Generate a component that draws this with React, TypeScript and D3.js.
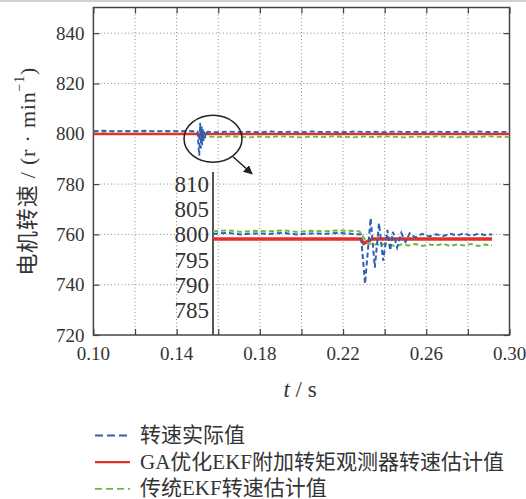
import React, { useEffect, useRef } from "react";
import * as d3 from "d3";

// x axis ticks (s) and y axis ticks (r/min)
const xTicks = [0.1, 0.12, 0.14, 0.16, 0.18, 0.2, 0.22, 0.24, 0.26, 0.28, 0.3];
const xLabelTicks = [0.1, 0.14, 0.18, 0.22, 0.26, 0.3];
const yTicks = [720, 740, 760, 780, 800, 820, 840];
const insetTicks = [785, 790, 795, 800, 805, 810];

const legendNames = ["转速实际值", "GA优化EKF附加转矩观测器转速估计值", "传统EKF转速估计值"];

// main plot series: [t, speed]
const blueMain: [number, number][] = [
  [0.1, 801.0], [0.105, 801.2], [0.11, 800.9], [0.115, 801.1], [0.12, 801.0], [0.125, 801.2],
  [0.13, 800.9], [0.135, 801.1], [0.14, 801.0], [0.145, 801.2], [0.15, 800.8], [0.1505, 795.0],
  [0.1509, 791.3], [0.1513, 804.4], [0.1517, 794.2], [0.152, 803.0], [0.1523, 795.5], [0.1526, 801.8],
  [0.1529, 797.0], [0.1532, 801.0], [0.1536, 798.3], [0.154, 800.9], [0.1545, 800.5], [0.155, 800.8],
  [0.16, 800.6], [0.165, 800.9], [0.17, 800.7], [0.175, 800.8], [0.18, 800.6], [0.185, 800.9],
  [0.19, 800.7], [0.195, 800.8], [0.2, 800.6], [0.205, 800.9], [0.21, 800.7], [0.215, 800.8],
  [0.22, 800.6], [0.225, 800.9], [0.23, 800.7], [0.235, 800.8], [0.24, 800.6], [0.245, 800.9],
  [0.25, 800.7], [0.255, 800.8], [0.26, 800.6], [0.265, 800.9], [0.27, 800.7], [0.275, 800.8],
  [0.28, 800.6], [0.285, 800.9], [0.29, 800.7], [0.295, 800.8], [0.3, 800.7],
];
const redMain: [number, number][] = [
  [0.1, 799.9], [0.1505, 799.9], [0.1508, 799.0], [0.1512, 799.5], [0.1516, 799.9], [0.3, 799.9],
];
const greenMain: [number, number][] = [
  [0.1, 801.0], [0.105, 800.8], [0.11, 801.1], [0.115, 800.9], [0.12, 801.0], [0.125, 800.8],
  [0.13, 801.1], [0.135, 800.9], [0.14, 801.0], [0.145, 800.8], [0.15, 801.0], [0.1507, 799.6],
  [0.1512, 798.6], [0.155, 798.9], [0.16, 798.7], [0.165, 799.0], [0.17, 798.8], [0.175, 798.6],
  [0.18, 798.9], [0.185, 798.7], [0.19, 799.0], [0.195, 798.8], [0.2, 798.6], [0.205, 798.9],
  [0.21, 798.7], [0.215, 799.0], [0.22, 798.8], [0.225, 798.6], [0.23, 798.9], [0.235, 798.7],
  [0.24, 799.0], [0.245, 798.8], [0.25, 798.6], [0.255, 798.9], [0.26, 798.7], [0.265, 799.0],
  [0.27, 798.8], [0.275, 798.6], [0.28, 798.9], [0.285, 798.7], [0.29, 799.0], [0.295, 798.8],
  [0.3, 798.7],
];

// inset (zoomed) series: [t, speed]
const blueInset: [number, number][] = [
  [0.14, 800.1], [0.141, 800.3], [0.142, 800.0], [0.143, 800.2], [0.144, 800.1], [0.145, 800.3],
  [0.146, 800.0], [0.147, 800.2], [0.148, 800.1], [0.149, 800.3], [0.15, 800.1], [0.1506, 800.0],
  [0.1509, 790.2], [0.1513, 803.2], [0.1516, 793.4], [0.1519, 802.2], [0.1522, 794.8], [0.1525, 800.9],
  [0.1527, 796.8], [0.1529, 800.5], [0.1532, 797.4], [0.1535, 800.3], [0.1538, 798.5], [0.1541, 800.2],
  [0.1545, 799.4], [0.155, 800.1], [0.1555, 799.6], [0.156, 800.0], [0.1565, 799.7], [0.157, 800.1],
  [0.1575, 799.8], [0.158, 800.2], [0.1585, 799.7], [0.159, 800.1], [0.1595, 799.9], [0.16, 800.0],
];
const redInset: [number, number][] = [
  [0.14, 799.1], [0.1506, 799.1], [0.1508, 798.2], [0.1511, 798.6], [0.1514, 799.1], [0.16, 799.1],
];
const greenInset: [number, number][] = [
  [0.14, 800.6], [0.141, 800.8], [0.142, 800.5], [0.143, 800.7], [0.144, 800.6], [0.145, 800.8],
  [0.146, 800.5], [0.147, 800.7], [0.148, 800.6], [0.149, 800.8], [0.1505, 800.6], [0.1508, 799.4],
  [0.1511, 798.2], [0.152, 797.9], [0.1525, 798.2], [0.153, 797.7], [0.1535, 798.0], [0.154, 797.8],
  [0.1545, 798.1], [0.155, 797.7], [0.1555, 798.0], [0.156, 797.8], [0.1565, 798.1], [0.157, 797.7],
  [0.1575, 798.0], [0.158, 797.8], [0.1585, 798.1], [0.159, 797.7], [0.1595, 798.0], [0.16, 797.8],
];

const BLUE = "#2f5fb3";
const RED = "#e5302a";
const GREEN = "#66bb44";
const FONT = "'Liberation Serif', 'Noto Sans CJK SC', serif";

export default function App() {
  const ref = useRef<SVGSVGElement>(null);

  useEffect(() => {
    const svg = d3.select(ref.current);
    svg.selectAll("*").remove();

    const left = 93.4, right = 509.5, top = 7.5, bottom = 335;
    const x = d3.scaleLinear().domain([0.1, 0.3]).range([left, right]);
    const y = d3.scaleLinear().domain([720, 850.2]).range([bottom, top]);
    const xi = d3.scaleLinear().domain([0.14, 0.16]).range([213, 492]);
    const yi = d3.scaleLinear().domain([790, 810]).range([y(740), y(780)]);

    // faint scan border at the top
    svg.append("line").attr("x1", 0).attr("x2", 526).attr("y1", 1).attr("y2", 1)
      .attr("stroke", "#cfcfcf").attr("stroke-width", 2);

    // grid
    const grid = svg.append("g").attr("stroke", "#8a8a8a").attr("stroke-width", 1).attr("stroke-dasharray", "1,2.5");
    xTicks.slice(1, -1).forEach(t => {
      grid.append("line").attr("x1", x(t)).attr("x2", x(t)).attr("y1", top).attr("y2", bottom);
    });
    yTicks.slice(1).forEach(v => {
      grid.append("line").attr("x1", left).attr("x2", right).attr("y1", y(v)).attr("y2", y(v));
    });

    // axes with inward ticks on all four sides
    const axisColor = "#444";
    const styleAxis = (g: any) => {
      g.select(".domain").remove();
      g.selectAll("line").attr("stroke", axisColor).attr("stroke-width", 1.2);
      g.selectAll("text").remove();
    };
    svg.append("g").attr("transform", `translate(0,${bottom})`)
      .call(d3.axisBottom(x).tickValues(xTicks).tickSize(-6)).call(styleAxis);
    svg.append("g").attr("transform", `translate(0,${top})`)
      .call(d3.axisTop(x).tickValues(xTicks).tickSize(-6)).call(styleAxis);
    svg.append("g").attr("transform", `translate(${left},0)`)
      .call(d3.axisLeft(y).tickValues(yTicks).tickSize(-6)).call(styleAxis);
    svg.append("g").attr("transform", `translate(${right},0)`)
      .call(d3.axisRight(y).tickValues(yTicks).tickSize(-6)).call(styleAxis);

    svg.append("rect").attr("x", left).attr("y", top).attr("width", right - left).attr("height", bottom - top)
      .attr("fill", "none").attr("stroke", axisColor).attr("stroke-width", 1.5);

    // tick labels
    svg.append("g").selectAll("text").data(xLabelTicks).join("text")
      .attr("x", d => x(d)).attr("y", bottom + 25)
      .attr("text-anchor", "middle").style("font-family", FONT).attr("font-size", 19).attr("fill", "#333")
      .text(d => d.toFixed(2));
    svg.append("g").selectAll("text").data(yTicks).join("text")
      .attr("x", left - 9).attr("y", d => y(d)).attr("dy", "0.35em")
      .attr("text-anchor", "end").style("font-family", FONT).attr("font-size", 19).attr("fill", "#333")
      .text(d => d);

    // axis titles
    const xt = svg.append("text").attr("x", 300).attr("y", 397).attr("text-anchor", "middle")
      .style("font-family", FONT).attr("font-size", 23).attr("fill", "#333");
    xt.append("tspan").attr("font-style", "italic").text("t");
    xt.append("tspan").text(" / s");

    const yt = svg.append("text").attr("transform", `translate(27,${(top + bottom) / 2}) rotate(-90)`)
      .attr("text-anchor", "middle").attr("dominant-baseline", "central")
      .style("font-family", FONT).style("letter-spacing", "0.8px").attr("font-size", 22).attr("fill", "#333");
    yt.append("tspan").text("电机转速 / (r · min");
    yt.append("tspan").attr("font-size", 14).attr("dy", -8).text("−1");
    yt.append("tspan").attr("dy", 8).text(")");

    const lineMain = d3.line<[number, number]>().x(d => x(d[0])).y(d => y(d[1]));
    const lineInset = d3.line<[number, number]>().x(d => xi(d[0])).y(d => yi(d[1]));

    // main series
    svg.append("path").attr("d", lineMain(greenMain)).attr("fill", "none").attr("stroke", GREEN)
      .attr("stroke-width", 1.8).attr("stroke-dasharray", "5,3");
    svg.append("path").attr("d", lineMain(redMain)).attr("fill", "none").attr("stroke", RED)
      .attr("stroke-width", 2.6);
    svg.append("path").attr("d", lineMain(blueMain)).attr("fill", "none").attr("stroke", BLUE)
      .attr("stroke-width", 1.8).attr("stroke-dasharray", "5,3");

    // zoom annotation
    const cx = x(0.1575), cy = y(798);
    svg.append("ellipse").attr("cx", cx).attr("cy", cy).attr("rx", 29).attr("ry", 23.5)
      .attr("fill", "none").attr("stroke", "#222").attr("stroke-width", 1.5);
    svg.append("defs").append("marker").attr("id", "arrowHead").attr("viewBox", "0 0 10 10")
      .attr("refX", 9).attr("refY", 5).attr("markerWidth", 9).attr("markerHeight", 9)
      .attr("orient", "auto").attr("markerUnits", "userSpaceOnUse")
      .append("path").attr("d", "M0,0 L10,5 L0,10 Z").attr("fill", "#222");
    svg.append("line").attr("x1", cx + 20).attr("y1", cy + 18).attr("x2", cx + 39).attr("y2", cy + 35)
      .attr("stroke", "#222").attr("stroke-width", 1.5).attr("marker-end", "url(#arrowHead)");

    // inset axis and labels
    svg.append("line").attr("x1", 213).attr("x2", 213).attr("y1", 172).attr("y2", bottom)
      .attr("stroke", "#555").attr("stroke-width", 2);
    svg.append("g").selectAll("text").data(insetTicks).join("text")
      .attr("x", 209).attr("y", d => yi(d)).attr("dy", "0.35em")
      .attr("text-anchor", "end").style("font-family", FONT).attr("font-size", 23).attr("fill", "#333")
      .text(d => d);

    // inset series
    svg.append("path").attr("d", lineInset(redInset)).attr("fill", "none").attr("stroke", RED)
      .attr("stroke-width", 3.5);
    svg.append("path").attr("d", lineInset(greenInset)).attr("fill", "none").attr("stroke", GREEN)
      .attr("stroke-width", 2).attr("stroke-dasharray", "5,3");
    svg.append("path").attr("d", lineInset(blueInset)).attr("fill", "none").attr("stroke", BLUE)
      .attr("stroke-width", 2).attr("stroke-dasharray", "5,3");

    // legend
    const legendColors = [BLUE, RED, GREEN];
    const legendDash = ["8,4", null, "7,4"];
    const lg = svg.append("g");
    legendNames.forEach((name, i) => {
      const ly = 434.5 + i * 26.7;
      lg.append("line").attr("x1", 95).attr("x2", 130).attr("y1", ly + 1).attr("y2", ly + 1)
        .attr("stroke", legendColors[i]).attr("stroke-width", i === 1 ? 2.2 : 1.8)
        .attr("stroke-dasharray", legendDash[i]);
      lg.append("text").attr("x", 140).attr("y", ly).attr("dy", "0.35em")
        .style("font-family", FONT).attr("font-size", 21).attr("fill", "#333").text(name);
    });
  }, []);

  return (
    <div style={{ position: "absolute", left: 0, top: 0 }}>
      <svg ref={ref} width={526} height={499} style={{ display: "block", background: "#fff" }} />
    </div>
  );
}
